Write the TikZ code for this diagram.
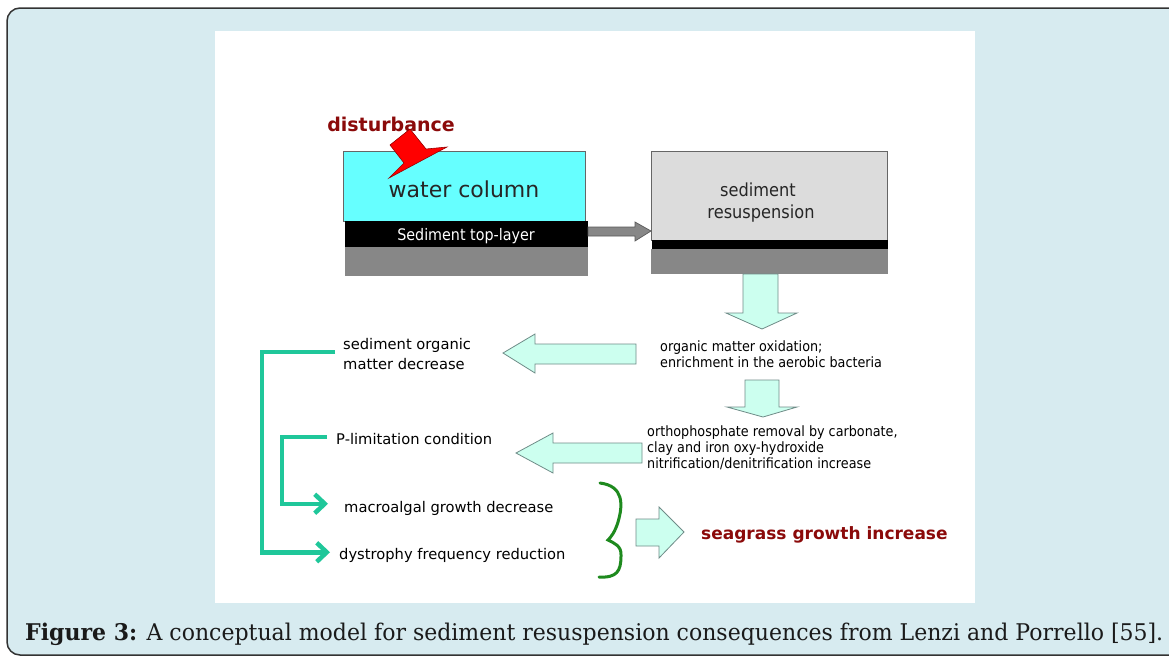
\documentclass[tikz,border=0pt]{standalone}
\usepackage{fontspec}
\setmainfont{DejaVu Sans}
\newfontfamily\narrowfont[FakeStretch=0.9]{DejaVu Sans}
\newfontfamily\capfont{DejaVu Serif}
\usepackage{graphicx}
\usetikzlibrary{arrows.meta}
\definecolor{framebg}{HTML}{D7EBF0}
\definecolor{cyanbox}{HTML}{66FFFF}
\definecolor{lgray}{HTML}{DCDCDC}
\definecolor{mgray}{HTML}{878787}
\definecolor{mint}{HTML}{CCFFEF}
\definecolor{mintedge}{HTML}{6F8C88}
\definecolor{conncol}{HTML}{1FC79A}
\definecolor{darkred}{HTML}{8B0A0A}
\definecolor{bracecol}{HTML}{1E8A1E}
\definecolor{captext}{HTML}{1A1A1A}
\begin{document}
\begin{tikzpicture}[x=1pt,y=-1pt,
  lbl/.style={inner sep=0pt, anchor=base west, font=\fontsize{14.7}{17}\selectfont},
  rlbl/.style={inner sep=0pt, anchor=base west, font=\narrowfont\fontsize{14.2}{16}\selectfont},
  blockarrow/.style={fill=mint, draw=mintedge, line width=0.8pt},
  connline/.style={draw=conncol, line width=4.5pt, -{Straight Barb[length=10pt,width=19pt]}},
  boxline/.style={draw=black!60, line width=0.8pt}]
\useasboundingbox (0,0) rectangle (1169,657);
\clip (0,0) rectangle (1169,657);
% frame and panel
\draw[fill=framebg, draw=black!80, line width=1.5pt, rounded corners=13pt] (7,8) rectangle (1200,655);
\fill[white] (215,31) rectangle (975,603);
% left stack
\draw[boxline, fill=cyanbox] (343,151) rectangle (585,221);
\fill[black] (345,221) rectangle (588,247);
\fill[mgray] (345,247) rectangle (588,276);
% right stack
\draw[boxline, fill=lgray] (651,151) rectangle (887,240);
\fill[black] (652,240) rectangle (888,249);
\fill[mgray] (651,249) rectangle (888,274);
% grey arrow
\draw[fill=mgray, draw=black!65, line width=0.7pt] (588,227) -- (635,227) -- (635,222) -- (651,231) -- (635,241) -- (635,236) -- (588,236) -- cycle;
% texts top
\node[inner sep=0pt, anchor=base, font=\bfseries\fontsize{19}{22}\selectfont, text=darkred] (dist) at (391,131) {disturbance};
\node[inner sep=0pt, anchor=base, font=\fontsize{22}{26}\selectfont, text=black!85] (wc) at (464,197) {water column};
\node[inner sep=0pt, anchor=base, font=\narrowfont\fontsize{15.9}{18}\selectfont, text=white] (stl) at (466,240) {Sediment top-layer};
\node[inner sep=0pt, anchor=base, font=\narrowfont\fontsize{18}{22}\selectfont, text=black!85] (sr1) at (758,196) {sediment};
\node[inner sep=0pt, anchor=base, font=\narrowfont\fontsize{18}{22}\selectfont, text=black!85] (sr2) at (761,218) {resuspension};
% red disturbance arrow
\draw[fill=red, draw=red!60!black, line width=0.6pt] (390,145) -- (410,129) -- (426,149) -- (447,147) -- (389,178) -- (404,163) -- cycle;
% block arrows
\draw[blockarrow] (743,274) -- (778,274) -- (778,313) -- (797,313) -- (762,329) -- (726,313) -- (743,313) -- cycle;
\draw[blockarrow] (745,380) -- (779,380) -- (779,407) -- (797,407) -- (763,417) -- (727,407) -- (745,407) -- cycle;
\draw[blockarrow] (636,344) -- (535,344) -- (535,334) -- (503,353) -- (535,373) -- (535,364) -- (636,364) -- cycle;
\draw[blockarrow] (642,443) -- (553,443) -- (553,433) -- (516,453) -- (553,473) -- (553,463) -- (642,463) -- cycle;
\draw[blockarrow] (636,519) -- (659,519) -- (659,507) -- (684,532) -- (659,558) -- (659,546) -- (636,546) -- cycle;
% right texts
\node[rlbl] (om1) at (660,351.7) {organic matter oxidation;};
\node[rlbl] (om2) at (660,367.3) {enrichment in the aerobic bacteria};
\node[rlbl] (op1) at (647,436.7) {orthophosphate removal by carbonate,};
\node[rlbl] (op2) at (647,452.7) {clay and iron oxy-hydroxide};
\node[rlbl] (op3) at (647,468.3) {nitrification/denitrification increase};
% left texts
\node[lbl] (som1) at (343,349.3) {sediment organic};
\node[lbl] (som2) at (343,369.3) {matter decrease};
\node[lbl] (plim) at (336,444.3) {P-limitation condition};
\node[lbl] (mac) at (344,512.3) {macroalgal growth decrease};
\node[lbl] (dys) at (339,559.3) {dystrophy frequency reduction};
\node[inner sep=0pt, anchor=base west, font=\bfseries\fontsize{17}{20}\selectfont, text=darkred] (sea) at (701,539.3) {seagrass growth increase};
% green connectors
\draw[connline] ([shift={(-8,6.5)}]som1.west) -- ++(-73,0) |- ([shift={(-9,-3)}]dys.west);
\draw[connline] ([shift={(-9,-2)}]plim.west) -- ++(-45,0) |- ([shift={(-16,-4.5)}]mac.west);
% brace
\draw[draw=bracecol, line width=3pt, line cap=round] (600,483) .. controls (624,486) and (623,505) .. (618,522) .. controls (615,532) and (611,537) .. (608,540) .. controls (614,543) and (622,546) .. (621,556) .. controls (621,571) and (617,578) .. (599,577);
% caption
\node[inner sep=0pt, anchor=base west, text=captext] (cap) at (25,640) {\resizebox{1138pt}{\height}{\capfont\fontsize{23}{27}\selectfont\textbf{Figure 3:} A conceptual model for sediment resuspension consequences from Lenzi and Porrello [55].}};
\end{tikzpicture}
\end{document}
